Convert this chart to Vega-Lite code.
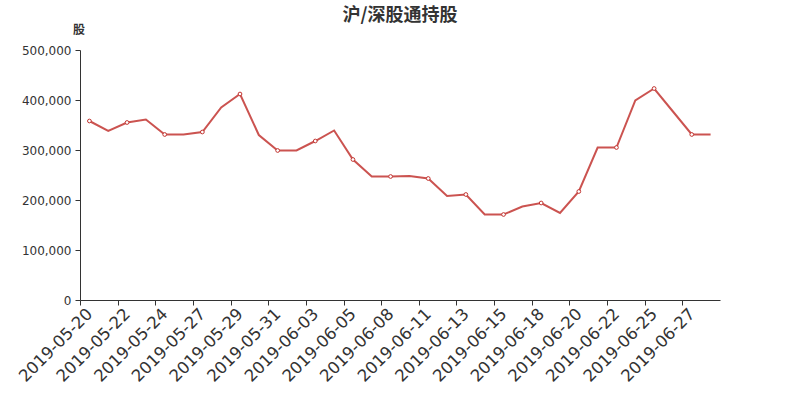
{
  "$schema": "https://vega.github.io/schema/vega-lite/v6.json",
  "autosize": {"type": "none"},
  "width": 640,
  "height": 250,
  "padding": {"left": 80, "top": 50, "right": 80, "bottom": 100},
  "background": "#ffffff",
  "config": {
    "view": {"stroke": null},
    "font": "DejaVu Sans"
  },
  "title": {
    "text": "沪/深股通持股",
    "anchor": "middle",
    "frame": "group",
    "font": "Noto Sans CJK SC",
    "fontSize": 18,
    "fontWeight": "bold",
    "color": "#333333",
    "offset": -2
  },
  "data": {
    "values": [
      {"date": "2019-05-20", "shares": 358000},
      {"date": "2019-05-21", "shares": 338000},
      {"date": "2019-05-22", "shares": 355000},
      {"date": "2019-05-23", "shares": 361000},
      {"date": "2019-05-24", "shares": 331000},
      {"date": "2019-05-25", "shares": 331000},
      {"date": "2019-05-27", "shares": 336000},
      {"date": "2019-05-28", "shares": 385000},
      {"date": "2019-05-29", "shares": 412000},
      {"date": "2019-05-30", "shares": 330000},
      {"date": "2019-05-31", "shares": 299000},
      {"date": "2019-06-01", "shares": 299000},
      {"date": "2019-06-03", "shares": 318000},
      {"date": "2019-06-04", "shares": 339000},
      {"date": "2019-06-05", "shares": 281000},
      {"date": "2019-06-06", "shares": 247000},
      {"date": "2019-06-08", "shares": 247000},
      {"date": "2019-06-10", "shares": 248000},
      {"date": "2019-06-11", "shares": 243000},
      {"date": "2019-06-12", "shares": 208000},
      {"date": "2019-06-13", "shares": 211000},
      {"date": "2019-06-14", "shares": 171000},
      {"date": "2019-06-15", "shares": 171000},
      {"date": "2019-06-17", "shares": 187000},
      {"date": "2019-06-18", "shares": 194000},
      {"date": "2019-06-19", "shares": 174000},
      {"date": "2019-06-20", "shares": 217000},
      {"date": "2019-06-21", "shares": 305000},
      {"date": "2019-06-22", "shares": 305000},
      {"date": "2019-06-24", "shares": 399000},
      {"date": "2019-06-25", "shares": 423000},
      {"date": "2019-06-26", "shares": 377000},
      {"date": "2019-06-27", "shares": 331000},
      {"date": "2019-06-28", "shares": 331000}
    ]
  },
  "encoding": {
    "x": {
      "field": "date",
      "type": "ordinal",
      "sort": null,
      "scale": {"type": "point", "padding": 0.5},
      "axis": {
        "title": null,
        "values": ["2019-05-20","2019-05-22","2019-05-24","2019-05-27","2019-05-29","2019-05-31","2019-06-03","2019-06-05","2019-06-08","2019-06-11","2019-06-13","2019-06-15","2019-06-18","2019-06-20","2019-06-22","2019-06-25","2019-06-27"],
        "tickOffset": -9.41,
        "labelOffset": 9.41,
        "labelAngle": -45,
        "labelAlign": "right",
        "labelBaseline": "middle",
        "labelPadding": 6,
        "labelFontSize": 16.5,
        "labelColor": "#333333",
        "domainColor": "#333333",
        "tickColor": "#333333",
        "tickSize": 5,
        "grid": false,
        "labelOverlap": false
      }
    },
    "y": {
      "field": "shares",
      "type": "quantitative",
      "scale": {"domain": [0, 500000], "nice": false},
      "axis": {
        "title": "股",
        "titleAngle": 0,
        "titleX": -1.5,
        "titleY": -21,
        "titleAlign": "center",
        "titleBaseline": "middle",
        "titleFont": "Noto Sans CJK SC",
        "titleFontSize": 12,
        "titleFontWeight": "bold",
        "titleColor": "#333333",
        "values": [0, 100000, 200000, 300000, 400000, 500000],
        "format": ",.0f",
        "labelFontSize": 12,
        "labelColor": "#333333",
        "labelPadding": 4,
        "domainColor": "#333333",
        "tickColor": "#333333",
        "tickSize": 5,
        "grid": false
      }
    }
  },
  "layer": [
    {
      "mark": {"type": "line", "color": "#c23531", "strokeWidth": 2, "opacity": 0.85}
    },
    {
      "transform": [
        {"filter": {"field": "date", "oneOf": ["2019-05-20","2019-05-22","2019-05-24","2019-05-27","2019-05-29","2019-05-31","2019-06-03","2019-06-05","2019-06-08","2019-06-11","2019-06-13","2019-06-15","2019-06-18","2019-06-20","2019-06-22","2019-06-25","2019-06-27"]}}
      ],
      "mark": {"type": "point", "shape": "circle", "filled": true, "fill": "#ffffff", "stroke": "#c23531", "strokeWidth": 1, "size": 14, "opacity": 1}
    }
  ]
}
